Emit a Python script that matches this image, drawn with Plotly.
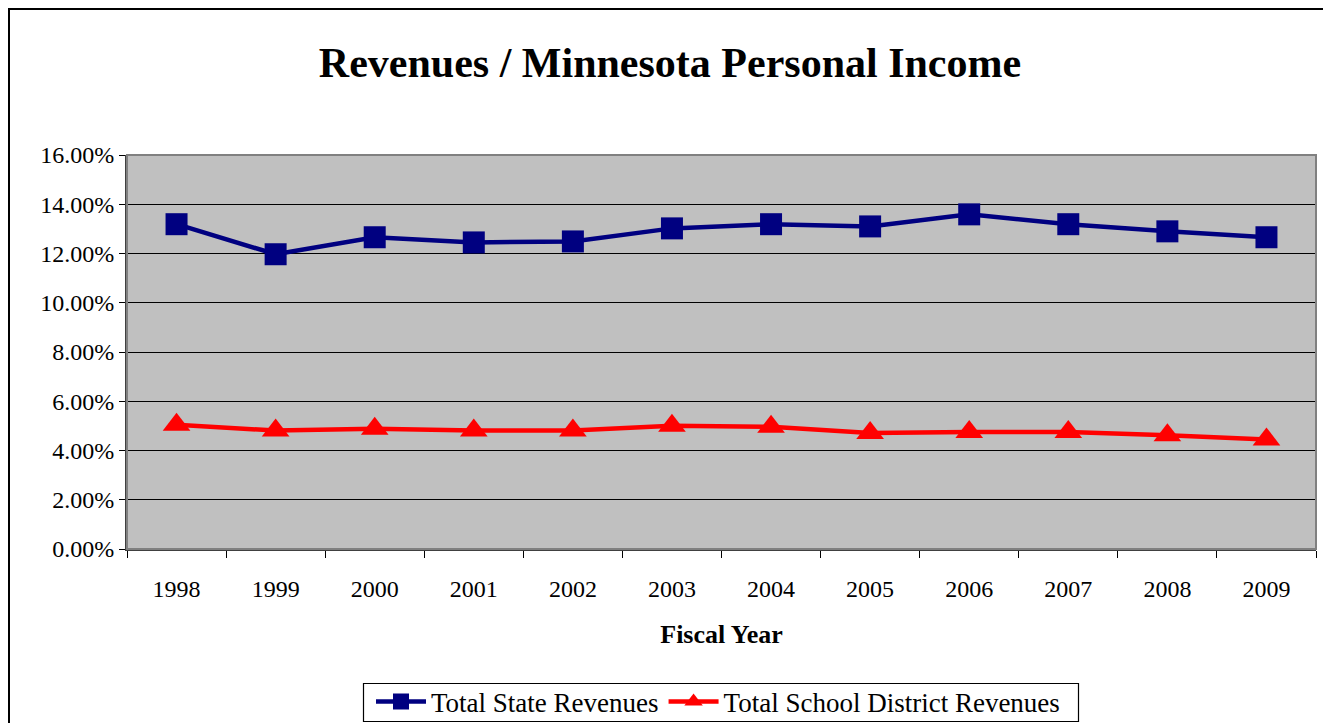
import plotly.graph_objects as go

years = ["1998", "1999", "2000", "2001", "2002", "2003", "2004", "2005", "2006", "2007", "2008", "2009"]
state_revenues = [13.19, 11.97, 12.66, 12.45, 12.49, 13.02, 13.19, 13.10, 13.59, 13.19, 12.90, 12.66]
school_revenues = [5.05, 4.81, 4.88, 4.81, 4.81, 5.01, 4.96, 4.71, 4.75, 4.75, 4.62, 4.45]
y_ticks = [0, 2, 4, 6, 8, 10, 12, 14, 16]
y_tick_labels = [f"{v:.2f}%" for v in y_ticks]

W, H = 1331, 723
OFF = 8  # page body margin offset
# desired screen positions of plot area
SL, SR, ST, SB = 127, 1316, 155, 549
L = SL - OFF
T = ST - OFF
R = W - (SR - OFF)
B = H - (SB - OFF)

FONT = "Liberation Serif"

fig = go.Figure()
fig.add_trace(go.Scatter(
    x=years, y=state_revenues, name="Total State Revenues", mode="lines+markers",
    line=dict(color="#000080", width=4.5),
    marker=dict(symbol="square", size=22, color="#000080"),
))
fig.add_trace(go.Scatter(
    x=years, y=school_revenues, name="Total School District Revenues", mode="lines+markers",
    line=dict(color="#FF0000", width=4.5),
    marker=dict(symbol="triangle-up", size=24, color="#FF0000"),
))

def px_x(p):  # screen x -> paper
    return (p - SL) / (SR - SL)

def px_y(p):  # screen y -> paper
    return (SB - p) / (SB - ST)

shapes = [
    # outer chart border
    dict(type="rect", xref="paper", yref="paper",
         x0=px_x(9), x1=px_x(1329), y0=px_y(745), y1=px_y(9),
         line=dict(color="black", width=2), layer="below"),
    # plot frame (gray)
    dict(type="rect", xref="paper", yref="paper", x0=0, x1=1, y0=0, y1=1,
         line=dict(color="#808080", width=2), layer="above"),
    # legend box
    dict(type="rect", xref="paper", yref="paper",
         x0=px_x(363.5), x1=px_x(1078.5), y0=px_y(721.5), y1=px_y(683.5),
         line=dict(color="black", width=1.2), fillcolor="white", layer="below"),
]

fig.update_layout(
    width=W, height=H,
    margin=dict(l=L, r=R, t=T, b=B, autoexpand=False),
    paper_bgcolor="white",
    plot_bgcolor="#C0C0C0",
    title=dict(text="<b>Revenues / Minnesota Personal Income</b>",
               font=dict(family=FONT, size=42, color="black"),
               x=(670 - OFF) / W, xanchor="center",
               y=1 - (62 - OFF) / H, yanchor="middle"),
    font=dict(family=FONT, color="black"),
    showlegend=True,
    legend=dict(orientation="h", x=px_x(718), xanchor="center",
                y=px_y(702), yanchor="middle",
                font=dict(family=FONT, size=27, color="black"),
                bgcolor="rgba(0,0,0,0)", itemwidth=50),
    shapes=shapes,
    xaxis=dict(
        type="category", range=[-0.5, 11.5],
        showgrid=False, zeroline=False,
        showline=True, linecolor="#404040", linewidth=2,
        ticks="outside", tickson="boundaries", ticklen=7, tickcolor="black", tickwidth=1,
        ticklabelstandoff=17,
        tickfont=dict(family=FONT, size=24, color="black"),
        title=dict(text="<b>Fiscal Year</b>", font=dict(family=FONT, size=26, color="black"), standoff=24),
    ),
    yaxis=dict(
        range=[0, 16], tickvals=y_ticks, ticktext=y_tick_labels,
        showgrid=True, gridcolor="black", gridwidth=1,
        zeroline=False,
        showline=True, linecolor="#404040", linewidth=2,
        ticks="outside", ticklen=6, tickcolor="black", tickwidth=1,
        tickfont=dict(family=FONT, size=24, color="black"),
    ),
)

fig.write_html("out.html")
